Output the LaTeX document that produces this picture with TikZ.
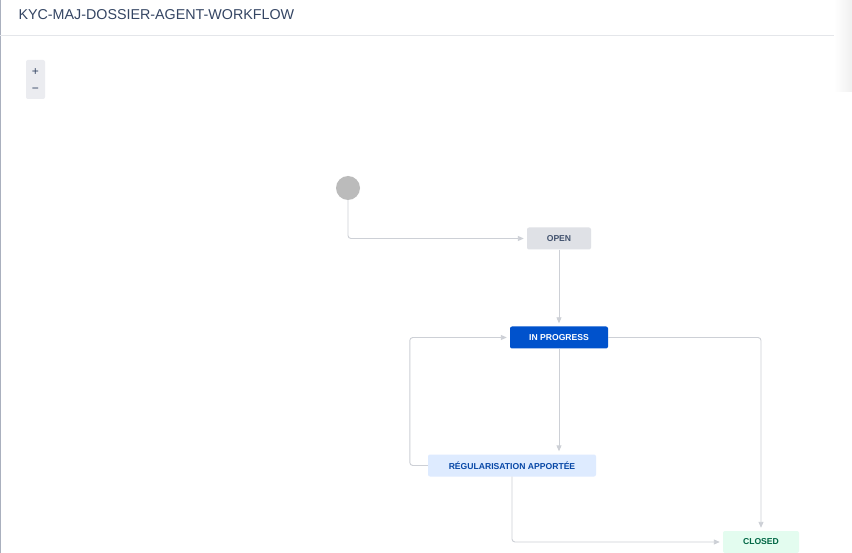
\documentclass[tikz,border=0pt]{standalone}
\usepackage{fontspec}
\setmainfont{Liberation Sans}
\usetikzlibrary{arrows.meta,positioning,calc}
\definecolor{TitleInk}{RGB}{52,69,99}
\definecolor{RuleGray}{RGB}{228,230,234}
\definecolor{EdgeBlue}{RGB}{170,176,190}
\definecolor{ZoomBg}{RGB}{235,236,240}
\definecolor{StartGray}{RGB}{187,187,187}
\definecolor{LineGray}{RGB}{205,208,214}
\definecolor{OpenBg}{RGB}{223,225,230}
\definecolor{OpenInk}{RGB}{66,82,110}
\definecolor{ProgBlue}{RGB}{0,82,204}
\definecolor{RegBg}{RGB}{222,235,255}
\definecolor{RegInk}{RGB}{7,71,166}
\definecolor{DoneBg}{RGB}{227,252,239}
\definecolor{DoneInk}{RGB}{0,102,68}
\tikzset{
  status/.style={rectangle,rounded corners=2pt,minimum height=22pt,
                 inner sep=0pt,font=\fontsize{8.6}{10}\selectfont\bfseries,
                 text centered},
  openbox/.style={status,fill=OpenBg,text=OpenInk,minimum width=64pt},
  progbox/.style={status,fill=ProgBlue,text=white,minimum width=98pt},
  regbox/.style={status,fill=RegBg,text=RegInk,minimum width=168pt},
  donebox/.style={status,fill=DoneBg,text=DoneInk,minimum width=76pt},
  trans/.style={-{Triangle[length=6pt,width=5pt]},LineGray,line width=0.9pt,
                rounded corners=3pt,shorten >=3pt},
}

\begin{document}
\begin{tikzpicture}[x=1pt,y=-1pt]
\useasboundingbox[fill=white] (0,0) rectangle (852,553);

% page frame
\draw[EdgeBlue,line width=1.2pt] (0.6,0) -- (0.6,553);
\draw[RuleGray,line width=1pt] (0,35.5) -- (840,35.5);
\shade[left color=white,right color=gray!12] (834,0) rectangle (852,92);
\node[anchor=west,text=TitleInk,font=\fontsize{14.3}{16}\selectfont] (title) at (15,15) {KYC-MAJ-DOSSIER-AGENT-WORKFLOW};

% zoom buttons
\node[fill=ZoomBg,rounded corners=2pt,minimum width=19pt,minimum height=39pt,inner sep=0pt] (zoom) at (35.5,79.5) {};
\node[text=TitleInk,font=\fontsize{12}{13}\selectfont] (zin) at (35.5,72) {+};
\node[text=TitleInk,font=\fontsize{12}{13}\selectfont] (zout) at (35.5,90) {\textminus};

% states
\node[circle,fill=StartGray,minimum size=24pt,inner sep=0pt] (start) at (348,188) {};
\node[openbox] (open) at (559,238.5) {OPEN};
\node[progbox] (prog) at (559,337.5) {IN PROGRESS};
\node[regbox] (reg) at (512,465.5) {RÉGULARISATION APPORTÉE};
\node[donebox] (done) at (761,542) {CLOSED};

% transitions
\draw[trans] (start.south) |- (open.west);
\draw[trans] (open.south) -- (prog.north);
\draw[trans] (prog.south) -- (reg.north -| prog.south);
\draw[trans] (reg.west) -- ++(-18,0) |- (prog.west);
\draw[trans] (prog.east) -| (done.north);
\draw[trans] (reg.south) |- (done.west);
\end{tikzpicture}
\end{document}
